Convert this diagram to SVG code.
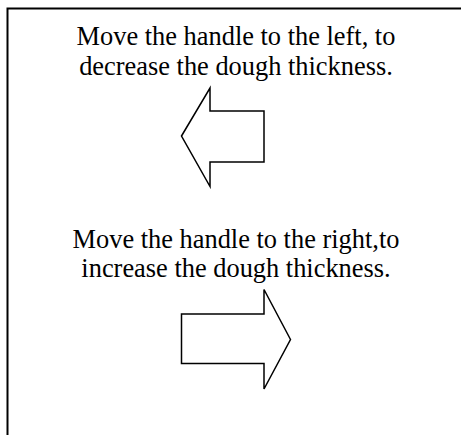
<svg xmlns="http://www.w3.org/2000/svg" width="461" height="435" viewBox="0 0 461 435">
<style>
.t{font-family:"Liberation Serif","Times New Roman",serif;font-size:26.4px;fill:#000;text-anchor:middle}
.a{fill:#fff;stroke:#000;stroke-width:1.5;stroke-linejoin:miter}
</style>
<rect width="461" height="435" fill="#fff"/>
<path d="M7.5,440 V8.5 H470" fill="none" stroke="#000" stroke-width="2"/>
<g id="text-left">
<text class="t" x="236" y="45">Move the handle to the left, to</text>
<text class="t" x="236" y="75">decrease the dough thickness.</text>
</g>
<g id="arrow-left">
<polygon class="a" points="181.5,136 210,88 210,111 264,111 264,162 210,162 210,186.5"/>
</g>
<g id="text-right">
<text class="t" x="236" y="247.7">Move the handle to the right,to</text>
<text class="t" x="236" y="277">increase the dough thickness.</text>
</g>
<g id="arrow-right">
<polygon class="a" points="290.5,339.5 264,289.5 264,314 181.5,314 181.5,363.5 264,363.5 264,389"/>
</g>
</svg>
